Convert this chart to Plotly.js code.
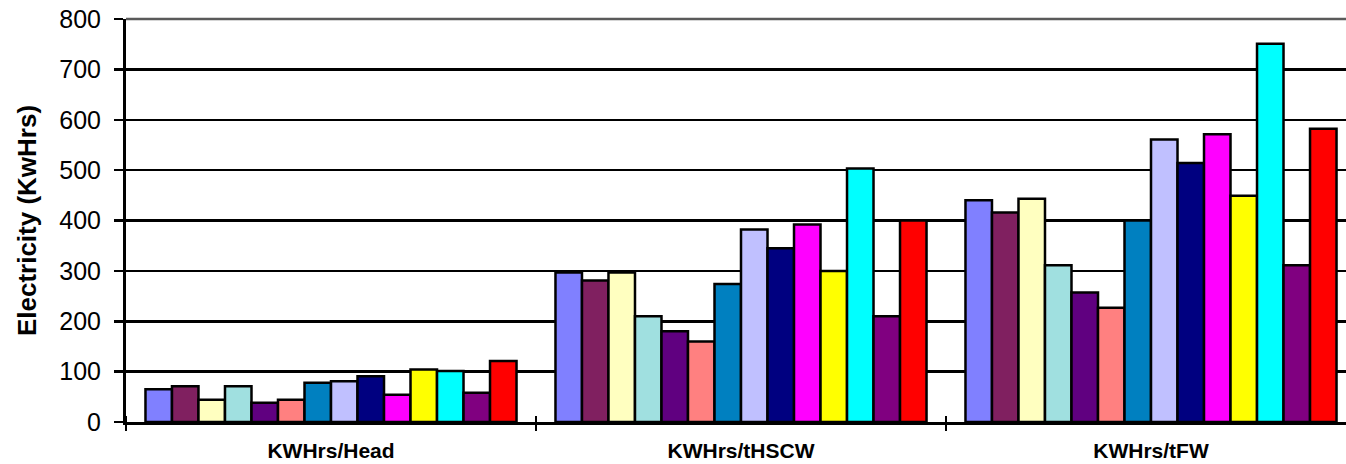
<!DOCTYPE html>
<html>
<head>
<meta charset="utf-8">
<script src="https://cdn.plot.ly/plotly-3.0.1.min.js"></script>
<style>
  html, body { margin: 0; padding: 0; background: #ffffff; overflow: hidden; }
  #chart { width: 1346px; height: 464px; }
</style>
</head>
<body>
<div id="chart"></div>
<script>
// Electricity use per unit, three measures, fourteen sites
const categories = ['KWHrs/Head', 'KWHrs/tHSCW', 'KWHrs/tFW'];

const seriesNames = [
  'Site 1', 'Site 2', 'Site 3', 'Site 4', 'Site 5', 'Site 6', 'Site 7',
  'Site 8', 'Site 9', 'Site 10', 'Site 11', 'Site 12', 'Site 13', 'Site 14'
];

// values per measure, one entry per site
const perHead  = [65, 71, 44, 71, 38, 44, 78, 81, 91, 54, 104, 101, 58, 121];
const perTHSCW = [297, 281, 297, 210, 180, 160, 274, 382, 345, 392, 300, 503, 210, 400];
const perTFW   = [440, 416, 443, 311, 257, 227, 400, 561, 514, 571, 449, 751, 311, 582];

const yTickVals = [0, 100, 200, 300, 400, 500, 600, 700, 800];

const palette = [
  '#8080FF', '#802060', '#FFFFC0', '#A0E0E0', '#600080', '#FF8080', '#0080C0',
  '#C0C0FF', '#000080', '#FF00FF', '#FFFF00', '#00FFFF', '#800080', '#FF0000'
];

const traces = seriesNames.map((name, i) => ({
  type: 'bar',
  name: name,
  x: categories,
  y: [perHead[i], perTHSCW[i], perTFW[i]],
  marker: { color: palette[i], line: { color: '#000000', width: 2.5 } },
  hoverinfo: 'x+y+name'
}));

// invisible companion trace so the second axis can carry the upward half of the cross ticks
traces.push({
  type: 'scatter',
  mode: 'markers',
  x: categories,
  y: categories.map(() => 0),
  xaxis: 'x2',
  yaxis: 'y',
  marker: { opacity: 0, size: 1 },
  showlegend: false,
  hoverinfo: 'skip'
});

const FONT = 'Liberation Sans, Arial, sans-serif';
const xRange = [-0.5, 2.4756];

const layout = {
  width: 1346,
  height: 464,
  margin: { l: 126, r: 0, t: 19, b: 42 },
  paper_bgcolor: '#ffffff',
  plot_bgcolor: '#ffffff',
  showlegend: false,
  barmode: 'group',
  bargap: 0.095,
  bargroupgap: 0,
  font: { family: FONT, color: '#000000' },
  xaxis: {
    type: 'category',
    range: xRange,
    tickson: 'boundaries',
    ticks: 'outside',
    ticklen: 6,
    tickwidth: 2.5,
    tickcolor: '#000000',
    showline: true,
    linecolor: '#000000',
    linewidth: 2.5,
    showgrid: false,
    ticklabelstandoff: 8,
    tickfont: { family: FONT, size: 21, color: '#000000', weight: 'bold' },
    fixedrange: true
  },
  xaxis2: {
    type: 'category',
    overlaying: 'x',
    anchor: 'free',
    position: 0,
    side: 'top',
    range: xRange,
    tickson: 'boundaries',
    ticks: 'outside',
    ticklen: 6,
    tickwidth: 2.5,
    tickcolor: '#000000',
    showline: false,
    showgrid: false,
    showticklabels: false,
    fixedrange: true
  },
  yaxis: {
    range: [0, 800],
    tickvals: yTickVals,
    ticks: 'outside',
    ticklen: 9,
    tickwidth: 2.5,
    tickcolor: '#000000',
    showline: true,
    linecolor: '#000000',
    linewidth: 3,
    showgrid: true,
    gridcolor: '#000000',
    gridwidth: 2.5,
    zeroline: false,
    ticklabelstandoff: 8,
    tickfont: { family: FONT, size: 25, color: '#000000' },
    title: {
      text: 'Electricity (KwHrs)',
      font: { family: FONT, size: 26, color: '#000000', weight: 'bold' },
      standoff: 16
    },
    fixedrange: true
  },
  shapes: [{
    type: 'line',
    xref: 'paper', yref: 'paper',
    x0: 0, x1: 1, y0: 1, y1: 1,
    line: { color: '#5a5a5a', width: 2.5 },
    layer: 'above'
  }]
};

Plotly.newPlot('chart', traces, layout, { displayModeBar: false, staticPlot: true });
</script>
</body>
</html>
